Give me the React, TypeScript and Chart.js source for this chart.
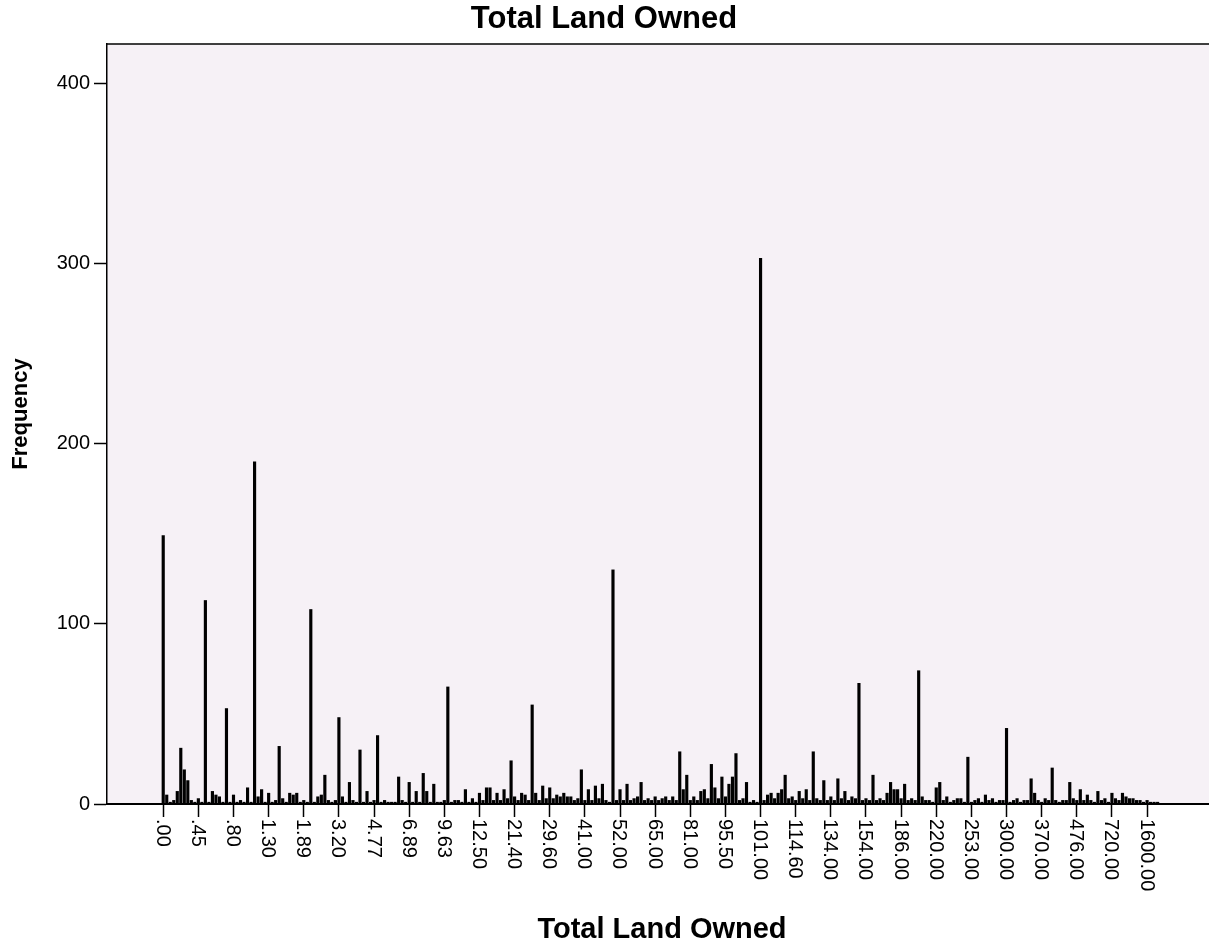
import { useEffect, useRef } from "react";
import { Chart, registerables } from "chart.js";

Chart.register(...registerables);

const FONT = "'Liberation Sans', Arial, sans-serif";

const chartTitle = "Total Land Owned";
const xAxisTitle = "Total Land Owned";
const yAxisTitle = "Frequency";

// one tick label every `labelEvery` categories
const labelEvery = 10;
const tickLabels = [
  ".00", ".45", ".80", "1.30", "1.89", "3.20", "4.77", "6.89", "9.63", "12.50",
  "21.40", "29.60", "41.00", "52.00", "65.00", "81.00", "95.50", "101.00", "114.60", "134.00",
  "154.00", "186.00", "220.00", "253.00", "300.00", "370.00", "476.00", "720.00", "1600.00",
];

const yMax = 422;
const yStep = 100;

// frequency of every category, in axis order (rows of 10 = one labelled tick each)
const frequencies = [
  149, 5, 1, 2, 7, 31, 19, 13, 2, 1,
  3, 1, 113, 1, 7, 5, 4, 1, 53, 1,
  5, 1, 2, 1, 9, 1, 190, 4, 8, 1,
  6, 1, 2, 32, 3, 1, 6, 5, 6, 1,
  2, 1, 108, 1, 4, 5, 16, 2, 1, 2,
  48, 4, 1, 12, 2, 1, 30, 1, 7, 1,
  2, 38, 1, 2, 1, 1, 1, 15, 2, 1,
  12, 1, 7, 1, 17, 7, 1, 11, 1, 1,
  2, 65, 1, 2, 2, 1, 8, 1, 3, 1,
  6, 2, 9, 9, 2, 6, 2, 8, 3, 24,
  4, 2, 6, 5, 2, 55, 6, 2, 10, 3,
  9, 3, 5, 4, 6, 4, 4, 2, 3, 19,
  2, 8, 2, 10, 3, 11, 2, 1, 130, 2,
  8, 2, 11, 2, 3, 4, 12, 2, 3, 2,
  4, 2, 3, 4, 2, 4, 2, 29, 8, 16,
  2, 4, 2, 7, 8, 3, 22, 9, 3, 15,
  4, 11, 15, 28, 2, 3, 12, 1, 2, 1,
  303, 2, 5, 6, 3, 6, 8, 16, 3, 4,
  2, 7, 3, 8, 2, 29, 3, 2, 13, 2,
  4, 2, 14, 3, 7, 2, 4, 3, 67, 2,
  3, 2, 16, 2, 3, 2, 6, 12, 8, 8,
  3, 11, 2, 3, 2, 74, 4, 2, 2, 1,
  9, 12, 2, 4, 1, 2, 3, 3, 1, 26,
  1, 2, 3, 1, 5, 2, 3, 1, 2, 2,
  42, 1, 2, 3, 1, 2, 2, 14, 6, 2,
  1, 3, 2, 20, 2, 1, 2, 2, 12, 3,
  2, 8, 2, 5, 2, 1, 7, 2, 3, 1,
  6, 3, 2, 6, 4, 3, 3, 2, 2, 1,
  2, 1, 1, 1,
];

const xMin = -16;
const xMax = 299.9;

const plotBackground = "#F6F1F6";

const framePlugin = {
  id: "frame",
  beforeDraw(chart: any) {
    const { ctx, chartArea } = chart;
    ctx.save();
    ctx.fillStyle = plotBackground;
    ctx.fillRect(chartArea.left, chartArea.top, chartArea.right - chartArea.left, chartArea.bottom - chartArea.top);
    ctx.restore();
  },
  afterDraw(chart: any) {
    const { ctx, chartArea } = chart;
    ctx.save();
    ctx.strokeStyle = "#000";
    ctx.lineWidth = 1.5;
    ctx.beginPath();
    ctx.moveTo(chartArea.left, chartArea.top);
    ctx.lineTo(chartArea.right, chartArea.top);
    ctx.stroke();
    // rotated category labels (reading top to bottom)
    const xs = chart.scales.x;
    ctx.font = `20px ${FONT}`;
    ctx.fillStyle = "#000";
    ctx.textAlign = "left";
    ctx.textBaseline = "middle";
    tickLabels.forEach((t, i) => {
      const x = xs.getPixelForValue(i * labelEvery);
      ctx.save();
      ctx.translate(x - 1, xs.top + 15);
      ctx.rotate(Math.PI / 2);
      ctx.fillText(t, 0, 0);
      ctx.restore();
    });
    // y axis title
    ctx.save();
    ctx.font = `bold 22px ${FONT}`;
    ctx.textAlign = "center";
    ctx.textBaseline = "middle";
    ctx.translate(30, 414);
    ctx.rotate(-Math.PI / 2);
    ctx.fillText(yAxisTitle, 0, 0);
    ctx.restore();
    ctx.restore();
  },
};

export default function App() {
  const ref = useRef<HTMLCanvasElement>(null);

  useEffect(() => {
    document.body.style.margin = "0";
    const canvas = ref.current!;
    const chart = new Chart(canvas, {
      type: "bar",
      data: {
        datasets: [
          {
            label: yAxisTitle,
            data: frequencies.map((v, i) => ({ x: i, y: v })),
            backgroundColor: "#000",
            borderWidth: 0,
            barThickness: 2.5,
          },
        ],
      },
      options: {
        responsive: false,
        animation: false,
        devicePixelRatio: 1,
        layout: { padding: 0 },
        plugins: {
          legend: { display: false },
          tooltip: { enabled: false },
          title: {
            display: true,
            text: chartTitle,
            color: "#000",
            font: { family: FONT, size: 31, weight: "bold" },
            padding: { top: 1, bottom: 5.8 },
          },
        },
        scales: {
          x: {
            type: "linear",
            min: xMin,
            max: xMax,
            offset: false,
            grid: {
              offset: false,
              drawOnChartArea: false,
              drawTicks: true,
              tickLength: 13,
              tickColor: "#000",
              tickWidth: 1.5,
            },
            border: { display: true, color: "#000", width: 2 },
            ticks: { display: false },
            afterBuildTicks: (s: any) => {
              s.ticks = tickLabels.map((_, i) => ({ value: i * labelEvery }));
            },
            afterFit: (s: any) => {
              s.height = 145;
            },
            title: {
              display: true,
              text: xAxisTitle,
              color: "#000",
              font: { family: FONT, size: 29, weight: "bold" },
              padding: { top: 0, bottom: 1.6 },
            },
          },
          y: {
            min: 0,
            max: yMax,
            grid: {
              drawOnChartArea: false,
              drawTicks: true,
              tickLength: 13,
              tickColor: "#000",
              tickWidth: 1.5,
            },
            border: { display: true, color: "#000", width: 1.5 },
            ticks: {
              stepSize: yStep,
              includeBounds: false,
              color: "#000",
              padding: 4,
              font: { family: FONT, size: 20 },
            },
            afterFit: (s: any) => {
              s.width = 116;
            },
            title: { display: false },
          },
        },
      },
      plugins: [framePlugin],
    });
    return () => chart.destroy();
  }, []);

  return (
    <div style={{ position: "fixed", left: 0, top: 0, width: 1209, height: 949, overflow: "hidden", background: "#fff" }}>
      <canvas
        ref={ref}
        width={1226}
        height={949}
        style={{ position: "absolute", left: -9, top: 0, width: 1226, height: 949 }}
      />
    </div>
  );
}
